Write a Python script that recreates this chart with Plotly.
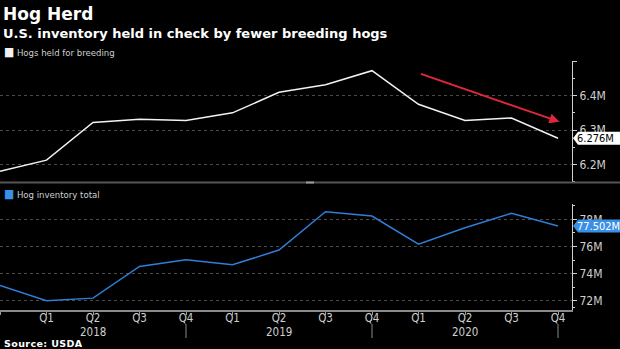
import plotly.graph_objects as go

# ---- data ----
quarters = ["Q4", "Q1", "Q2", "Q3", "Q4", "Q1", "Q2", "Q3", "Q4", "Q1", "Q2", "Q3", "Q4"]
years = [2017, 2018, 2018, 2018, 2018, 2019, 2019, 2019, 2019, 2020, 2020, 2020, 2020]
breeding = [6.180, 6.212, 6.322, 6.331, 6.328, 6.350, 6.410, 6.432, 6.473, 6.375, 6.328, 6.335, 6.276]
total = [73.15, 72.02, 72.21, 74.54, 75.03, 74.66, 75.74, 78.56, 78.24, 76.18, 77.38, 78.44, 77.502]
breeding_name = "Hogs held for breeding"
total_name = "Hog inventory total"
top_ticks = [6.2, 6.3, 6.4, 6.5]
bottom_ticks = [72, 74, 76, 78]

W, H = 620, 349
BG = "black"
WHITE = "#f2f2f2"
BLUE = "#2f7ed8"
BLUE_BOX = "#3a8fe6"
RED = "#e0283c"
GRID = "#4a4a4a"
TICKC = "#cfcfcf"
COND = "DejaVu Sans Condensed, DejaVu Sans, sans-serif"
BOLD = "DejaVu Sans, sans-serif"

def py(px):
    return 1 - px / H

xs = list(range(len(quarters)))
px_per_q = 46.5
x_dom_r = 572 / W
x_range = [0, 572 / px_per_q]

fig = go.Figure()
fig.add_trace(go.Scatter(x=xs, y=breeding, mode="lines", line=dict(color=WHITE, width=1.5),
                         xaxis="x2", yaxis="y2", name=breeding_name, showlegend=False))
fig.add_trace(go.Scatter(x=xs, y=total, mode="lines", line=dict(color=BLUE, width=1.5),
                         xaxis="x", yaxis="y", name=total_name, showlegend=False))

ticktext = ["" if i == 0 else q for i, q in enumerate(quarters)]

top_rng = [6.5 - (182 - 61.4) / 343, 6.5 + 0.4 / 343]
bot_rng = [72 - (310 - 301) / 13.6, 78 + (219.3 - 204) / 13.6]

fig.update_layout(
    width=W, height=H,
    margin=dict(l=0, r=0, t=0, b=0),
    paper_bgcolor=BG, plot_bgcolor=BG,
    showlegend=False,
    font=dict(family=COND, color=TICKC, size=11),
    xaxis=dict(domain=[0, x_dom_r], range=x_range, anchor="y",
               tickvals=xs, ticktext=ticktext, ticks="outside", ticklen=3, tickcolor="#999",
               ticklabelstandoff=-7,
               showline=True, linecolor="#8a8a8a", linewidth=1.5, showgrid=False, zeroline=False,
               tickfont=dict(family=COND, size=11.5, color=TICKC)),
    xaxis2=dict(domain=[0, x_dom_r], range=x_range, anchor="y2", matches="x",
                showticklabels=False, showgrid=False, zeroline=False, showline=False, ticks=""),
    yaxis=dict(domain=[py(310), py(204)], range=bot_rng, side="right", anchor="x",
               tickvals=bottom_ticks, ticktext=[f"{v}M" for v in bottom_ticks],
               ticks="outside", ticklen=4, tickcolor=TICKC,
               minor=dict(tickvals=[71.5, 73, 75, 77, 79], ticks="outside", ticklen=2, tickcolor=TICKC, showgrid=False),
               showline=True, linecolor=TICKC, linewidth=1,
               showgrid=True, gridcolor=GRID, griddash="dot", gridwidth=1, zeroline=False,
               tickfont=dict(family=COND, size=12, color=TICKC)),
    yaxis2=dict(domain=[py(182), py(61)], range=top_rng, side="right", anchor="x2",
                tickvals=top_ticks, ticktext=[f"{v:.1f}M" if v < 6.5 else "" for v in top_ticks],
                ticks="outside", ticklen=4, tickcolor=TICKC,
                minor=dict(tickvals=[6.15, 6.25, 6.35, 6.45], ticks="outside", ticklen=2, tickcolor=TICKC, showgrid=False),
                showline=True, linecolor=TICKC, linewidth=1,
                showgrid=True, gridcolor=GRID, griddash="dot", gridwidth=1, zeroline=False,
                tickfont=dict(family=COND, size=12, color=TICKC)),
)

shapes = []
# panel separator
shapes.append(dict(type="line", xref="paper", yref="paper", x0=0, x1=1, y0=py(182.5), y1=py(182.5),
                   line=dict(color="#555555", width=2)))
shapes.append(dict(type="line", xref="paper", yref="paper", x0=306 / W, x1=314 / W, y0=py(182.5), y1=py(182.5),
                   line=dict(color="#9a9a9a", width=2)))
# year dividers
for i, q in enumerate(quarters):
    if q == "Q4" and i > 0:
        shapes.append(dict(type="line", xref="x", yref="paper", x0=i, x1=i, y0=py(324), y1=py(338),
                           line=dict(color="#8a8a8a", width=1)))
# last-value label boxes (pointer + box to the right edge)
for yref, val, col in [("y2", breeding[-1], "white"), ("y", total[-1], BLUE_BOX)]:
    shapes.append(dict(type="path", xref="paper", yref=yref, xsizemode="pixel", ysizemode="pixel",
                       xanchor=573 / W, yanchor=val,
                       path="M 0,0 L 5,6.5 L 48,6.5 L 48,-6.5 L 5,-6.5 Z", fillcolor=col, line=dict(width=0)))
fig.update_layout(shapes=shapes)

ann = []
ann.append(dict(text="<b>Hog Herd</b>", xref="paper", yref="paper", x=0.002, y=py(2), xanchor="left", yanchor="top",
                showarrow=False, font=dict(family=BOLD, size=17, color="white")))
ann.append(dict(text="<b>U.S. inventory held in check by fewer breeding hogs</b>", xref="paper", yref="paper",
                x=0.002, y=py(24), xanchor="left", yanchor="top", showarrow=False,
                font=dict(family=BOLD, size=13, color="white")))
ann.append(dict(text=f"<span style='color:{WHITE};font-size:12px'>■</span> {breeding_name}", xref="paper", yref="paper",
                x=0.004, y=py(52), xanchor="left", yanchor="middle", showarrow=False,
                font=dict(family=COND, size=9.5, color=TICKC)))
ann.append(dict(text=f"<span style='color:{BLUE_BOX};font-size:12px'>■</span> {total_name}", xref="paper", yref="paper",
                x=0.004, y=py(194), xanchor="left", yanchor="middle", showarrow=False,
                font=dict(family=COND, size=9.5, color=TICKC)))
ann.append(dict(text="<span style='letter-spacing:0.4px'><b>Source: USDA</b></span>", xref="paper", yref="paper",
                x=0.003, y=py(343), xanchor="left",
                yanchor="middle", showarrow=False, font=dict(family=BOLD, size=9.5, color="white")))
# year labels under Q2 of each year
for i, (q, yv) in enumerate(zip(quarters, years)):
    if q == "Q2":
        ann.append(dict(text=str(yv), xref="x", yref="paper", x=i, y=py(331.5), xanchor="center",
                        yanchor="middle", showarrow=False, font=dict(family=COND, size=11.5, color=TICKC)))
# last value labels
ann.append(dict(text=f"{breeding[-1]:.3f}M", xref="paper", yref="y2", x=575 / W, y=breeding[-1],
                xanchor="left", yanchor="middle", showarrow=False,
                font=dict(family=COND, size=11, color="black")))
ann.append(dict(text=f"{total[-1]:.3f}M", xref="paper", yref="y", x=575 / W, y=total[-1],
                xanchor="left", yanchor="middle", showarrow=False,
                font=dict(family=COND, size=11, color="white")))
# red trend arrow
ann.append(dict(text="", xref="x2", yref="y2", axref="x2", ayref="y2",
                x=12.03, y=6.324, ax=9.02, ay=6.465, showarrow=True,
                arrowhead=2, arrowsize=1, arrowwidth=2, arrowcolor=RED))
fig.update_layout(annotations=ann)

fig.write_html("out.html")
